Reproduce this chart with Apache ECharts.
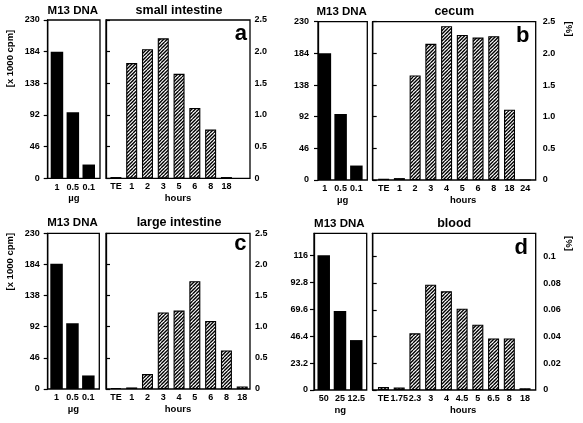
<!DOCTYPE html>
<html><head><meta charset="utf-8">
<script src="https://cdn.jsdelivr.net/npm/echarts@6/dist/echarts.min.js"></script>
<style>html,body{margin:0;padding:0;background:#fff}#c{width:583px;height:423px}</style>
</head><body><div id="c"></div><script>
// ---------- data ----------
const m13DoseUg = ['1', '0.5', '0.1'];
const m13DoseNg = ['50', '25', '12.5'];
const m13SmallIntestine = [184, 96, 20];
const m13Cecum = [184, 96, 21];
const m13LargeIntestine = [185, 97, 20];
const m13Blood = [116, 68, 43];

const hoursSmallIntestine = ['TE', '1', '2', '3', '5', '6', '8', '18'];
const pctSmallIntestine = [0.02, 1.82, 2.04, 2.21, 1.65, 1.11, 0.77, 0.02];
const hoursCecum = ['TE', '1', '2', '3', '4', '5', '6', '8', '18', '24'];
const pctCecum = [0.02, 0.03, 1.65, 2.15, 2.43, 2.29, 2.25, 2.27, 1.11, 0];
const hoursLargeIntestine = ['TE', '1', '2', '3', '4', '5', '6', '8', '18'];
const pctLargeIntestine = [0.015, 0.025, 0.24, 1.23, 1.26, 1.73, 1.09, 0.62, 0.04];
const hoursBlood = ['TE', '1.75', '2.3', '3', '4', '4.5', '5', '6.5', '8', '18'];
const pctBlood = [0.0022, 0.0018, 0.0425, 0.079, 0.074, 0.061, 0.049, 0.0387, 0.0387, 0.0013];

const cpmTicksOrgan = {max: 230, interval: 46, showMax: true};
const pctTicksOrgan = {max: 2.5, interval: 0.5, showMax: true, fmt: v => v === 0 ? '0' : v.toFixed(1)};
const cpmTicksBlood = {max: 135, interval: 23.2, showMax: false};
const pctTicksBlood = {max: 0.1175, interval: 0.02, showMax: false, fmt: v => v === 0 ? '0' : String(+v.toFixed(2))};

// ---------- layout ----------
const FONT = '"Liberation Sans", Arial, Helvetica, sans-serif';
const lab = {color: '#000', fontFamily: FONT, fontWeight: 'bold', fontSize: 9};

function hatchTile() {
  const s = 7, c = document.createElement('canvas');
  c.width = s; c.height = s;
  const ctx = c.getContext('2d');
  ctx.fillStyle = '#fff'; ctx.fillRect(0, 0, s, s);
  ctx.strokeStyle = '#000'; ctx.lineWidth = 1.35;
  for (let x0 = -s; x0 <= s; x0 += s / 2) {
    ctx.beginPath(); ctx.moveTo(x0, s); ctx.lineTo(x0 + s, 0); ctx.stroke();
  }
  return c;
}
const hatch = {image: hatchTile(), repeat: 'repeat'};

const panels = [
  {title: 'small intestine', letter: 'a', doses: m13DoseUg, unit: 'µg', m13: m13SmallIntestine,
   hours: hoursSmallIntestine, pct: pctSmallIntestine, cpm: cpmTicksOrgan, pctAx: pctTicksOrgan,
   top: 20, bottom: 178.3, m13Box: [47.7, 100], m13Slot: [49, 15.9], box: [106, 250], slot: [108, 15.79],
   leftMargin: 8, rightMargin: 4.5, hoursShift: 0, titleY: 11, letterX: 247, letterY: 33.5,
   cpmLabel: [10, 58.5], pctLabel: null},
  {title: 'cecum', letter: 'b', doses: m13DoseUg, unit: 'µg', m13: m13Cecum,
   hours: hoursCecum, pct: pctCecum, cpm: cpmTicksOrgan, pctAx: pctTicksOrgan,
   top: 21.7, bottom: 180, m13Box: [318, 367.3], m13Slot: [317, 15.75], box: [372.7, 535.7], slot: [375.8, 15.73],
   leftMargin: 9, rightMargin: 7, hoursShift: 18, titleY: 11.5, letterX: 529.5, letterY: 35.6,
   cpmLabel: null, pctLabel: [568.5, 29]},
  {title: 'large intestine', letter: 'c', doses: m13DoseUg, unit: 'µg', m13: m13LargeIntestine,
   hours: hoursLargeIntestine, pct: pctLargeIntestine, cpm: cpmTicksOrgan, pctAx: pctTicksOrgan,
   top: 233.3, bottom: 389, m13Box: [47.7, 99.3], m13Slot: [48.6, 15.9], box: [106, 250], slot: [108, 15.79],
   leftMargin: 8, rightMargin: 5, hoursShift: 0, titleY: 223, letterX: 246.5, letterY: 244,
   cpmLabel: [10, 261.7], pctLabel: null},
  {title: 'blood', letter: 'd', doses: m13DoseNg, unit: 'ng', m13: m13Blood,
   hours: hoursBlood, pct: pctBlood, cpm: cpmTicksBlood, pctAx: pctTicksBlood,
   top: 233.3, bottom: 390, m13Box: [314, 366.7], m13Slot: [315.6, 16.25], box: [372.7, 535.7], slot: [375.6, 15.73],
   leftMargin: 6, rightMargin: 7.5, hoursShift: 18, titleY: 223.5, letterX: 528, letterY: 247.6,
   cpmLabel: null, pctLabel: [568.5, 243.5]}
];

const grid = [], xAxis = [], yAxis = [], series = [], graphic = [];
const hidden = {axisLine: {show: false}, axisTick: {show: false}, axisLabel: {show: false}, splitLine: {show: false}};
const blackLine = {show: true, lineStyle: {color: '#000', width: 1.3}};

panels.forEach(p => {
  const h = p.bottom - p.top;
  const g = grid.length;
  grid.push({left: p.m13Box[0], top: p.top, width: p.m13Box[1] - p.m13Box[0], height: h,
             show: true, borderColor: '#000', borderWidth: 1.3});
  grid.push({left: p.m13Slot[0], top: p.top, width: p.m13Slot[1] * p.doses.length, height: h});
  grid.push({left: p.box[0], top: p.top, width: p.box[1] - p.box[0], height: h,
             show: true, borderColor: '#000', borderWidth: 1.3});
  grid.push({left: p.slot[0], top: p.top, width: p.slot[1] * p.hours.length, height: h});

  xAxis.push(Object.assign({gridIndex: g, type: 'value', min: 0, max: 1, name: p.unit,
    nameLocation: 'middle', nameGap: 15.5, nameTextStyle: Object.assign({}, lab, {fontSize: 9.5})}, hidden));
  yAxis.push({gridIndex: g, type: 'value', position: 'left', min: 0, max: p.cpm.max, interval: p.cpm.interval,
    axisLine: blackLine, axisTick: {show: true, length: 4, lineStyle: {color: '#000', width: 1.2}},
    axisLabel: Object.assign({}, lab, {margin: p.leftMargin, showMaxLabel: p.cpm.showMax, showMinLabel: true}),
    splitLine: {show: false}});
  xAxis.push({gridIndex: g + 1, type: 'category', data: p.doses,
    axisLine: {show: false}, axisTick: {show: false}, splitLine: {show: false},
    axisLabel: Object.assign({}, lab, {margin: 4.5, interval: 0})});
  yAxis.push(Object.assign({gridIndex: g + 1, type: 'value', min: 0, max: p.cpm.max, show: false}, hidden));
  xAxis.push(Object.assign({gridIndex: g + 2, type: 'value', min: 0, max: 1, name: 'hours',
    nameLocation: 'middle', nameGap: 15.5,
    nameTextStyle: Object.assign({}, lab, {fontSize: 9.5, padding: [0, 0, 0, p.hoursShift]})}, hidden));
  yAxis.push({gridIndex: g + 2, type: 'value', position: 'right', min: 0, max: p.pctAx.max, interval: p.pctAx.interval,
    axisLine: blackLine, axisTick: {show: true, length: 4, lineStyle: {color: '#000', width: 1.2}},
    axisLabel: Object.assign({}, lab, {margin: p.rightMargin, formatter: p.pctAx.fmt,
      showMaxLabel: p.pctAx.showMax, showMinLabel: true}),
    splitLine: {show: false}});
  xAxis.push({gridIndex: g + 3, type: 'category', data: p.hours,
    axisLine: {show: false}, axisTick: {show: false}, splitLine: {show: false},
    axisLabel: Object.assign({}, lab, {margin: 4, interval: 0})});
  yAxis.push(Object.assign({gridIndex: g + 3, type: 'value', min: 0, max: p.pctAx.max, show: false}, hidden));

  series.push({type: 'bar', xAxisIndex: g + 1, yAxisIndex: g + 1, data: p.m13, barWidth: 12.5,
    itemStyle: {color: '#000'}, silent: true});
  series.push({type: 'bar', xAxisIndex: g + 3, yAxisIndex: g + 3, data: p.pct, barWidth: 11,
    itemStyle: {color: hatch, borderColor: '#000', borderWidth: 1.1}, silent: true});

  graphic.push({type: 'text', x: (p.m13Box[0] + p.m13Box[1]) / 2 - 1, y: p.titleY,
    style: {text: 'M13 DNA', font: 'bold 11.5px ' + FONT, fill: '#000', textAlign: 'center', textVerticalAlign: 'middle'}});
  graphic.push({type: 'text', x: (p.box[0] + p.box[1]) / 2 + (p.hoursShift ? 0 : 1), y: p.titleY,
    style: {text: p.title, font: 'bold 12.5px ' + FONT, fill: '#000', textAlign: 'center', textVerticalAlign: 'middle'}});
  graphic.push({type: 'text', x: p.letterX, y: p.letterY,
    style: {text: p.letter, font: 'bold 22px ' + FONT, fill: '#000', textAlign: 'right', textVerticalAlign: 'middle'}});
  if (p.cpmLabel) graphic.push({type: 'text', x: p.cpmLabel[0], y: p.cpmLabel[1], rotation: Math.PI / 2,
    style: {text: '[x 1000 cpm]', font: 'bold 9.5px ' + FONT, fill: '#000', textAlign: 'center', textVerticalAlign: 'middle'}});
  if (p.pctLabel) graphic.push({type: 'text', x: p.pctLabel[0], y: p.pctLabel[1], rotation: -Math.PI / 2,
    style: {text: '[%]', font: 'bold 9.5px ' + FONT, fill: '#000', textAlign: 'center', textVerticalAlign: 'middle'}});
});

const chart = echarts.init(document.getElementById('c'), null, {renderer: 'canvas'});
chart.setOption({animation: false, backgroundColor: '#fff', grid, xAxis, yAxis, series, graphic});
</script></body></html>
